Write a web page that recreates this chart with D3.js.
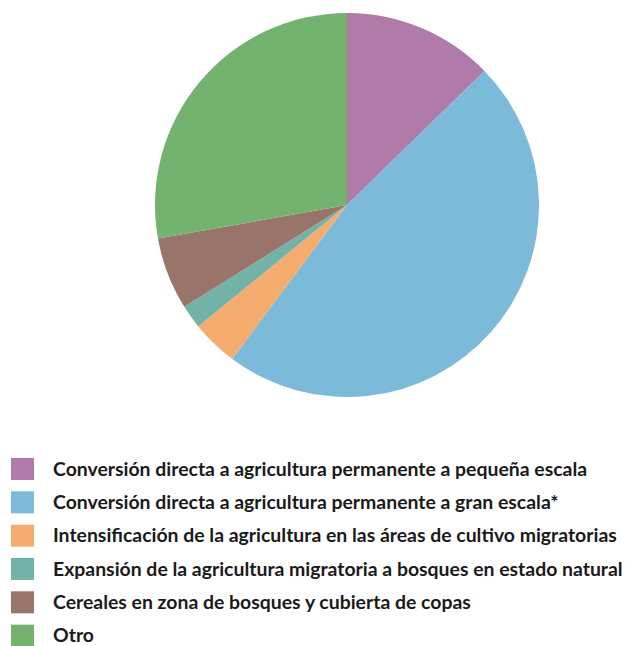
<!DOCTYPE html>
<html>
<head>
<meta charset="utf-8">
<script src="https://cdn.jsdelivr.net/npm/d3@7"></script>
<style>
  body { margin: 0; background: #fff; }
  text { font-family: Lato, "Open Sans", sans-serif; font-weight: bold; }
</style>
</head>
<body>
<div id="chart"></div>
<script>
// categories and shares (%)
const categories = [
  'Conversión directa a agricultura permanente a pequeña escala',
  'Conversión directa a agricultura permanente a gran escala*',
  'Intensificación de la agricultura en las áreas de cultivo migratorias',
  'Expansión de la agricultura migratoria a bosques en estado natural',
  'Cereales en zona de bosques y cubierta de copas',
  'Otro'
];
const values = [12.7, 47.5, 3.9, 2.0, 6.1, 27.8];
const colors = ['#b07ba8', '#7bbad9', '#f5ad6f', '#73b3a7', '#98746b', '#74b26f'];

const width = 625;
const height = 646;

const svg = d3.select('#chart')
  .append('svg')
  .attr('width', width)
  .attr('height', height);

// pie
const radius = 192;
const pie = d3.pie().sort(null).value(d => d);
const arc = d3.arc().innerRadius(0).outerRadius(radius);

const groupPie = svg.append('g')
  .attr('transform', 'translate(347, 205)');

groupPie.selectAll('path')
  .data(pie(values))
  .enter()
  .append('path')
  .attr('d', arc)
  .attr('fill', (d, i) => colors[i]);

// legend
const legendY = d3.scaleBand()
  .domain(d3.range(categories.length))
  .range([452, 652]);

const legend = svg.append('g').attr('class', 'legend');

const rows = legend.selectAll('g')
  .data(categories)
  .enter()
  .append('g')
  .attr('transform', (d, i) => `translate(0, ${legendY(i)})`);

rows.append('rect')
  .attr('x', 11)
  .attr('y', 6)
  .attr('width', 23)
  .attr('height', 22)
  .attr('fill', (d, i) => colors[i]);

const labels = rows.append('text')
  .attr('x', 53)
  .attr('y', 17)
  .attr('dy', '0.35em')
  .attr('font-size', '17px')
  .attr('fill', '#1a1a1a')
  .text(d => d);

// scale the font so the longest label spans like the original (~570px)
const longest = d3.max(labels.nodes(), n => n.getComputedTextLength());
labels.attr('font-size', (17 * 570 / longest).toFixed(2) + 'px');
</script>
</body>
</html>
